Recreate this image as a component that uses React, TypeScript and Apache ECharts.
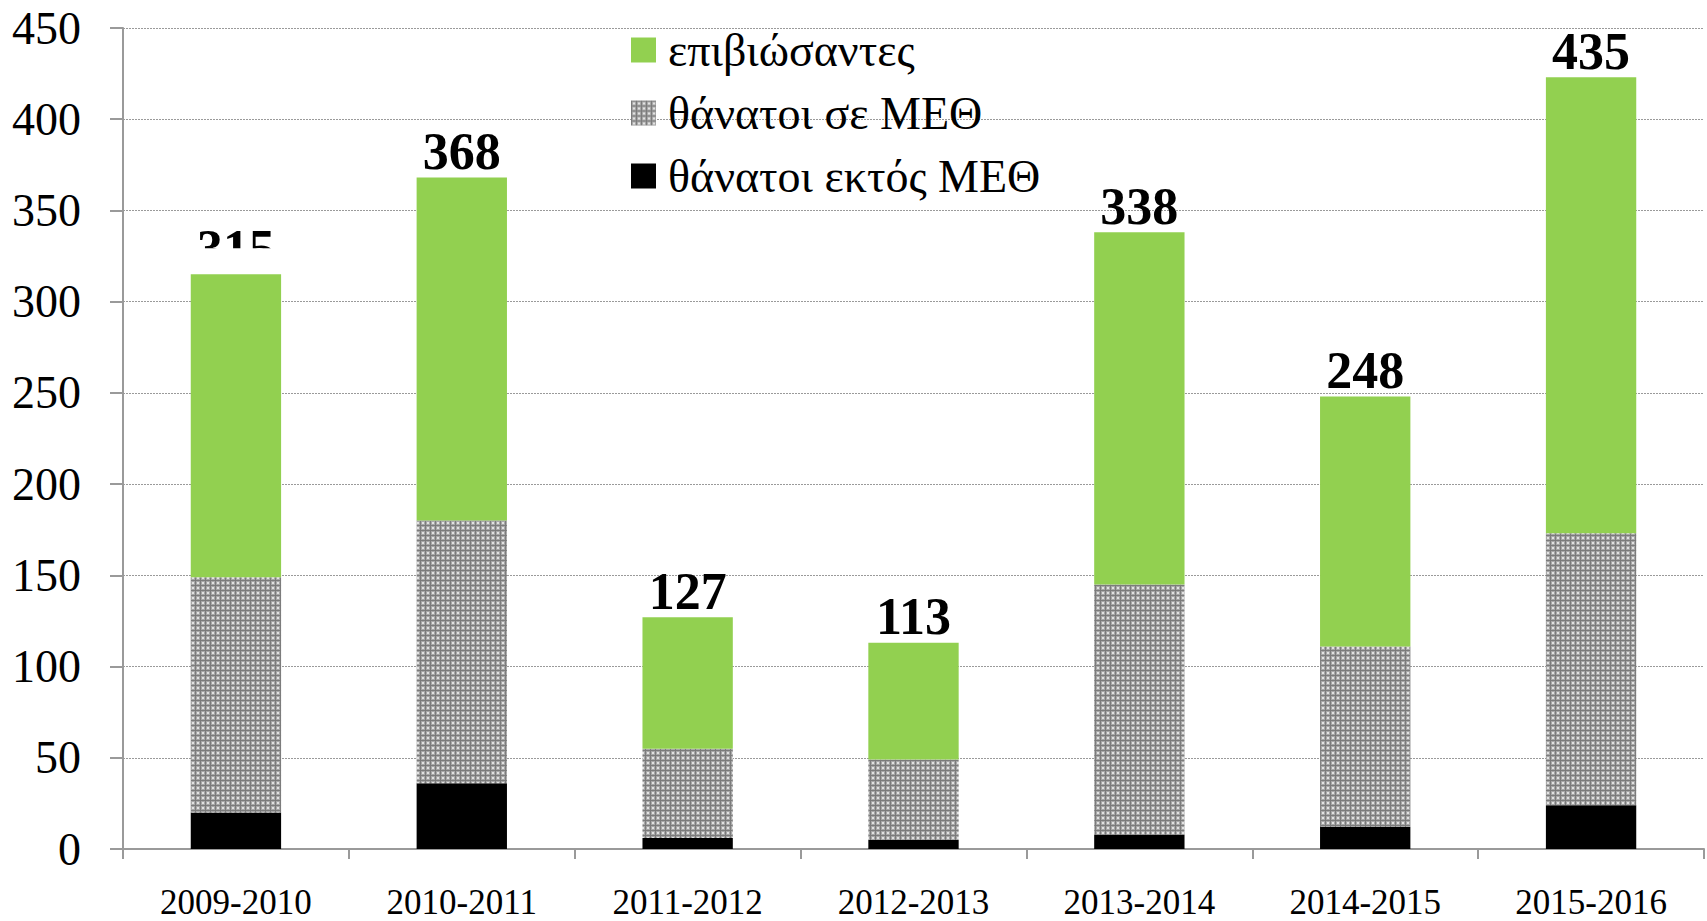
import React, { useEffect, useRef } from "react";
import * as echarts from "echarts";

const categories = ["2009-2010", "2010-2011", "2011-2012", "2012-2013", "2013-2014", "2014-2015", "2015-2016"];
const deathsOutsideICU = [20, 36, 6, 5, 8, 12, 24];
const deathsInICU = [129, 144, 49, 44, 137, 99, 149];
const survivors = [166, 188, 72, 64, 193, 137, 250];
const totals = [315, 368, 127, 113, 338, 248, 435];
const yTicks = { min: 0, max: 450, interval: 50 };

const FONT = "'Liberation Serif', 'Times New Roman', serif";

function makePattern(): HTMLCanvasElement {
  const c = document.createElement("canvas");
  c.width = 5;
  c.height = 5;
  const ctx = c.getContext("2d")!;
  ctx.fillStyle = "#7c7c7c";
  ctx.fillRect(0, 0, 5, 5);
  ctx.fillStyle = "#a8a8a8";
  ctx.fillRect(1, 1, 4, 4);
  ctx.fillStyle = "#e2e2e2";
  ctx.fillRect(2, 2, 2, 2);
  return c;
}

export default function App() {
  const ref = useRef<HTMLDivElement>(null);
  useEffect(() => {
    if (!ref.current) return;
    const chart = echarts.init(ref.current, null, { renderer: "svg" });
    const pattern = { image: makePattern(), repeat: "repeat" };
    chart.setOption({
      animation: false,
      backgroundColor: "#ffffff",
      textStyle: { fontFamily: FONT },
      grid: { left: 123, right: 3, top: 28, bottom: 72, containLabel: false },
      legend: {
        orient: "vertical",
        left: 626,
        top: 22,
        itemWidth: 25,
        itemHeight: 25,
        itemGap: 17,
        icon: "rect",
        textStyle: { fontFamily: FONT, fontSize: 46, lineHeight: 46, color: "#000", padding: [0, 0, 0, 7] },
        data: ["επιβιώσαντες", "θάνατοι σε ΜΕΘ", "θάνατοι εκτός ΜΕΘ"],
      },
      xAxis: {
        type: "category",
        data: categories,
        axisLine: { lineStyle: { color: "#9a9a9a", width: 2 } },
        axisTick: { show: true, alignWithLabel: false, length: 10, lineStyle: { color: "#9a9a9a", width: 2 } },
        axisLabel: { fontFamily: FONT, fontSize: 35, lineHeight: 35, color: "#000", margin: 36 },
      },
      yAxis: {
        type: "value",
        min: yTicks.min,
        max: yTicks.max,
        interval: yTicks.interval,
        axisLine: { show: true, lineStyle: { color: "#9a9a9a", width: 2 } },
        axisTick: { show: true, length: 13, lineStyle: { color: "#9a9a9a", width: 2 } },
        axisLabel: { fontFamily: FONT, fontSize: 46, color: "#000", margin: 42 },
        splitLine: { show: true, lineStyle: { color: "#9a9a9a", type: [2, 1], width: 1 } },
      },
      series: [
        {
          name: "θάνατοι εκτός ΜΕΘ",
          type: "bar",
          stack: "total",
          barWidth: "40%",
          data: deathsOutsideICU,
          itemStyle: { color: "#000000" },
        },
        {
          name: "θάνατοι σε ΜΕΘ",
          type: "bar",
          stack: "total",
          barWidth: "40%",
          data: deathsInICU,
          itemStyle: { color: pattern },
        },
        {
          name: "επιβιώσαντες",
          type: "bar",
          stack: "total",
          barWidth: "40%",
          data: survivors,
          itemStyle: { color: "#92d050" },
          label: {
            show: true,
            position: "top",
            distance: 0,
            fontFamily: FONT,
            fontSize: 52,
            lineHeight: 52,
            fontWeight: "bold",
            color: "#000",
            formatter: (p: any) => String(totals[p.dataIndex]),
          },
        },
      ],
    });
    // the first total label is partly hidden in the original
    const pTop = chart.convertToPixel({ gridIndex: 0 }, [0, deathsOutsideICU[0] + deathsInICU[0] + survivors[0]]) as number[];
    chart.setOption({
      graphic: [
        {
          type: "rect",
          z: 100,
          shape: { x: pTop[0] - 60, y: pTop[1] - 26, width: 120, height: 25 },
          style: { fill: "#ffffff" },
        },
      ],
    });
    return () => chart.dispose();
  }, []);
  return <div ref={ref} style={{ position: "fixed", left: 0, top: 0, width: 1707, height: 921 }} />;
}
